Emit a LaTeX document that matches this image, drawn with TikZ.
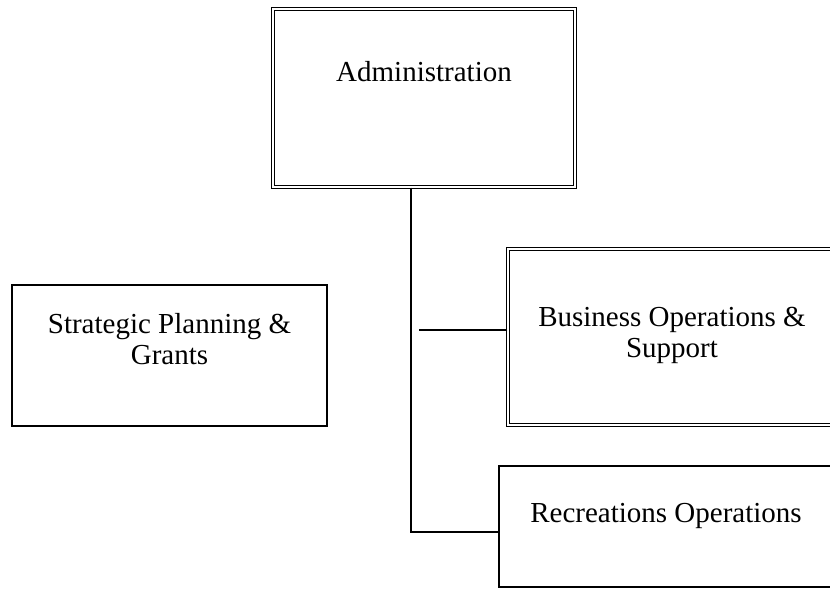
\documentclass[tikz,border=0pt]{standalone}
\usepackage{fontspec}
\setmainfont{Liberation Serif}
\usepackage{tikz}

\tikzset{
  unit/.style     = {draw, line width=1.2pt, double, double distance=2.2pt, inner sep=0pt},
  plainunit/.style= {draw, line width=2pt, inner sep=0pt},
  unitname/.style = {align=center, font=\fontsize{29}{31}\selectfont, inner sep=0pt},
  link/.style     = {line width=1.6pt}
}

\begin{document}
\begin{tikzpicture}[x=1pt, y=-1pt]
      \useasboundingbox (0,0) rectangle (830,590);
      % boxes
      \node[unit, minimum width=302pt, minimum height=178pt]      (admin) at (424,98) {};
      \node[unit, minimum width=328pt, minimum height=176pt]      (business) at (672,337) {};
      \node[plainunit, minimum width=334pt, minimum height=121pt] (recreation) at (666,526.5) {};
      \node[plainunit, minimum width=315pt, minimum height=141pt] (strategic) at (169.5,355.5) {};
      % names
      \node[unitname] (admint)      at ([yshift=26pt]admin.center)       {Administration};
      \node[unitname] (businesst)   at ([yshift=2pt]business.center)     {Business Operations \&\\Support};
      \node[unitname] (recreationt) at ([yshift=11pt]recreation.center)  {Recreations Operations};
      \node[unitname] (strategict)  at ([yshift=16.5pt]strategic.center) {Strategic Planning \&\\Grants};
      % links
      \draw[link] ([xshift=-13pt]admin.south) |- ([yshift=-5.5pt]recreation.west);
      \draw[link] ([yshift=7pt]business.west) -- ++(-88,0);
    \end{tikzpicture}
\end{document}
